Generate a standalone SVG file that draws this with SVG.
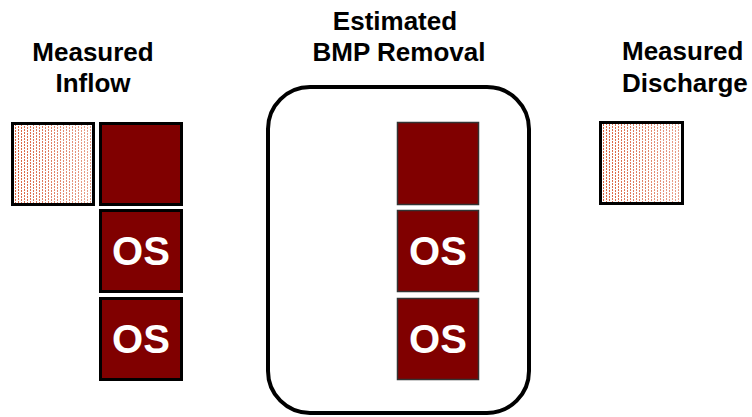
<svg xmlns="http://www.w3.org/2000/svg" width="752" height="417" viewBox="0 0 752 417">
<defs>
<pattern id="dots" width="6" height="3" patternUnits="userSpaceOnUse">
<rect x="0" y="0" width="1" height="2" fill="#d9623f"/>
<rect x="3" y="1" width="1" height="2" fill="#d9623f"/>
</pattern>
<linearGradient id="fade" x1="0" y1="0" x2="1" y2="0">
<stop offset="0" stop-color="#fff" stop-opacity="0"/>
<stop offset="1" stop-color="#fff" stop-opacity="0.4"/>
</linearGradient>
</defs>
<style>
.lbl{font-family:"Liberation Sans",Arial,sans-serif;font-weight:bold;font-size:26px;fill:#000}
.os{font-family:"Liberation Sans",Arial,sans-serif;font-weight:bold;font-size:40px;fill:#fff;text-anchor:middle}
.dk{fill:#800000;stroke:#000;stroke-width:3}
.dk2{fill:#800000;stroke:#333;stroke-width:1.5}
.ht{fill:#fff;stroke:#000;stroke-width:3}
</style>
<g id="label-inflow">
<text class="lbl" x="93" y="61" text-anchor="middle">Measured</text>
<text class="lbl" x="93" y="92" text-anchor="middle">Inflow</text>
</g>
<g id="label-bmp">
<text class="lbl" x="395" y="30" text-anchor="middle">Estimated</text>
<text class="lbl" x="399" y="61" text-anchor="middle">BMP Removal</text>
</g>
<g id="label-discharge">
<text class="lbl" x="622" y="60">Measured</text>
<text class="lbl" x="622" y="92">Discharge</text>
</g>
<g id="inflow-measured">
<rect class="ht" x="12.5" y="123.5" width="81" height="81"/>
<rect x="14" y="125" width="78" height="78" fill="url(#dots)"/>
<rect x="14" y="125" width="78" height="78" fill="url(#fade)"/>
</g>
<g id="inflow-1"><rect class="dk" x="100.5" y="123.5" width="81" height="81"/></g>
<g id="inflow-2"><rect class="dk" x="100.5" y="210.5" width="81" height="81"/><text class="os" x="141" y="265">OS</text></g>
<g id="inflow-3"><rect class="dk" x="100.5" y="298.5" width="81" height="81"/><text class="os" x="141" y="353">OS</text></g>
<g id="bmp-box"><rect x="268" y="87" width="261" height="326" rx="42" ry="42" fill="none" stroke="#000" stroke-width="4"/></g>
<g id="bmp-1"><rect class="dk2" x="397.5" y="122.5" width="81" height="82"/></g>
<g id="bmp-2"><rect class="dk2" x="397.5" y="210.5" width="81" height="81"/><text class="os" x="438" y="265">OS</text></g>
<g id="bmp-3"><rect class="dk2" x="397.5" y="298.5" width="81" height="81"/><text class="os" x="438" y="353">OS</text></g>
<g id="discharge-measured">
<rect class="ht" x="600.5" y="122.5" width="82" height="81"/>
<rect x="602" y="124" width="79" height="78" fill="url(#dots)"/>
<rect x="602" y="124" width="79" height="78" fill="url(#fade)"/>
</g>
<g id="connectors"/>
</svg>
